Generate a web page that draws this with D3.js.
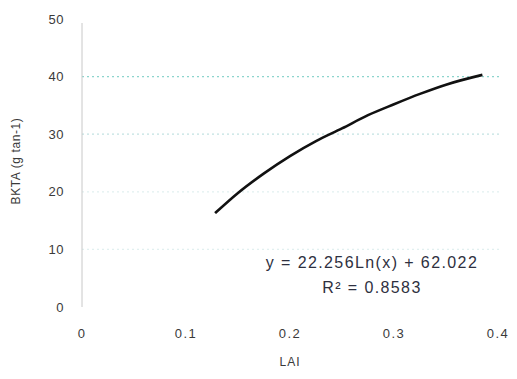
<!DOCTYPE html>
<html><head><meta charset="utf-8">
<script src="https://cdn.jsdelivr.net/npm/d3@7"></script>
<style>body{margin:0;background:#fff}svg{display:block}text{font-family:"Liberation Sans",Arial,sans-serif}</style>
</head><body>
<script>
const xTicks = [0, 0.1, 0.2, 0.3, 0.4];
const yTicks = [0, 10, 20, 30, 40, 50];
const gridValues = [10, 20, 30, 40];
const laiValues = [0.128, 0.15, 0.175, 0.2, 0.225, 0.25, 0.275, 0.3, 0.325, 0.35, 0.385];
const bktaValues = [16.3, 19.8, 23.2, 26.2, 28.8, 31.0, 33.3, 35.2, 37.0, 38.6, 40.3];
const equationLines = ["y = 22.256Ln(x) + 62.022", "R² = 0.8583"];

const W = 517, H = 379;
const svg = d3.select("body").append("svg").attr("width", W).attr("height", H);
const x = d3.scaleLinear().domain([0, 0.4]).range([82, 498]);
const y = d3.scaleLinear().domain([0, 50]).range([307, 19]);

const grad = svg.append("defs").append("linearGradient").attr("id","g1");
grad.append("stop").attr("offset","0%").attr("stop-color","#c8489a");
grad.append("stop").attr("offset","55%").attr("stop-color","#d47a80");
grad.append("stop").attr("offset","100%").attr("stop-color","#e6e040");

svg.append("g").selectAll("line").data(gridValues).join("line")
  .attr("x1", x(0)).attr("x2", x(0.4) + 4)
  .attr("y1", d => y(d)).attr("y2", d => y(d))
  .attr("stroke", d => d === 40 ? "#7fd0c8" : "#a8d4d4")
  .attr("stroke-opacity", d => d === 40 ? 0.9 : (d === 30 ? 0.7 : 0.35))
  .attr("stroke-width", 1.2)
  .attr("stroke-dasharray", "2,3");

svg.append("line").attr("x1", x(0)).attr("x2", x(0)).attr("y1", y(50) + 4).attr("y2", y(0))
  .attr("stroke", "#c8c8c8").attr("stroke-width", 1);

svg.append("line").attr("x1", x(0) - 2).attr("x2", x(0.4) + 2).attr("y1", y(0)).attr("y2", y(0))
  .attr("stroke", "url(#g1)").attr("stroke-width", 1.8);

svg.append("g").selectAll("text").data(yTicks).join("text")
  .attr("x", 64).attr("y", d => y(d)).attr("dy", "0.35em")
  .attr("text-anchor", "end").attr("font-size", 13).attr("fill", "#3a3a3a")
  .style("letter-spacing", "0.5px")
  .text(d => d);
svg.append("g").selectAll("text").data(xTicks).join("text")
  .attr("x", d => x(d)).attr("y", 333).attr("dy", "0.35em")
  .attr("text-anchor", "middle").attr("font-size", 13).attr("fill", "#3a3a3a")
  .style("letter-spacing", "1.5px")
  .text(d => d === 0 ? "0" : d3.format(".1f")(d));

svg.append("text").attr("transform", `translate(20,161) rotate(-90)`)
  .attr("text-anchor", "middle").attr("font-size", 12).attr("fill", "#3a3a3a")
  .style("letter-spacing", "0.6px")
  .text("BKTA (g tan-1)");
svg.append("text").attr("x", 290).attr("y", 366).attr("text-anchor", "middle")
  .attr("font-size", 12).attr("fill", "#3a3a3a").style("letter-spacing", "1px").text("LAI");

const line = d3.line().x(d => x(d[0])).y(d => y(d[1])).curve(d3.curveMonotoneX);
svg.append("path").datum(laiValues.map((v, i) => [v, bktaValues[i]]))
  .attr("d", line).attr("fill", "none").attr("stroke", "#111").attr("stroke-width", 2.6);

svg.append("g").selectAll("text").data(equationLines).join("text")
  .attr("x", 372).attr("y", (d, i) => 262 + i * 25).attr("dy", "0.35em")
  .attr("text-anchor", "middle").attr("font-size", 16).attr("fill", "#2e3040")
  .style("letter-spacing", "1.4px")
  .text(d => d);
</script>
</body></html>
